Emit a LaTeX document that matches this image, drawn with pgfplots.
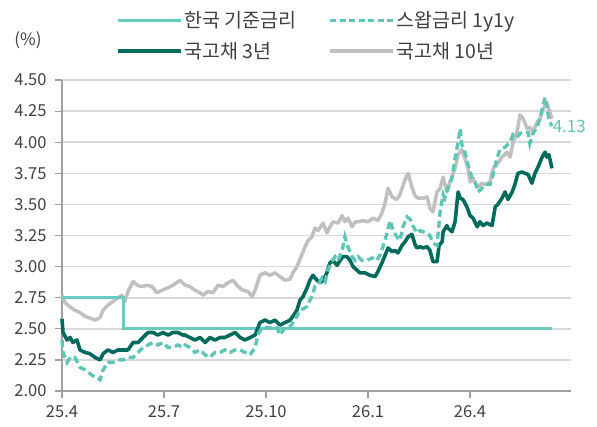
\documentclass[border=0pt]{standalone}
\usepackage{fontspec}
\setmainfont{Noto Sans CJK KR}
\usepackage{pgfplots}
\pgfplotsset{compat=1.18}
\definecolor{baseC}{RGB}{106,204,190}
\definecolor{swapC}{RGB}{95,197,182}
\definecolor{darkC}{RGB}{0,106,92}
\definecolor{grayC}{RGB}{192,192,192}
\definecolor{gridC}{RGB}{217,217,217}
\definecolor{axisC}{RGB}{160,160,160}
\definecolor{txtC}{RGB}{64,64,64}
\begin{document}
\begin{tikzpicture}[font=\fontsize{16.5}{19}\selectfont]
\begin{axis}[name=ax,
  scale only axis, width=509pt, height=311pt,
  xmin=0, xmax=14.97, ymin=2, ymax=4.5,
  axis x line*=bottom, axis y line*=left,
  axis line style={draw=axisC, line width=1.2pt},
  xtick={0,3,6,9,12}, xticklabels={25.4,25.7,25.10,26.1,26.4},
  ytick={2,2.25,...,4.5},
  /pgf/number format/assume math mode=true,
  tick label style={text=txtC, font=\fontsize{16.5}{19}\selectfont},
  xticklabel style={yshift=-4pt},
  yticklabel style={xshift=-5pt, /pgf/number format/.cd,fixed,fixed zerofill,precision=2},
  tick align=outside, major tick length=7pt,
  tick style={draw=axisC, line width=1.2pt},
  ymajorgrids, grid style={draw=gridC, line width=1.6pt},
  clip=false,
  legend columns=2,
  legend style={at={(0.5,1)}, anchor=south, yshift=16pt, draw=none, fill=none,
    text=txtC, font=\fontsize{19.5}{22}\selectfont,
    /tikz/every even column/.append style={column sep=30pt},
    row sep=9pt},
  legend cell align=left,
  legend image code/.code={\draw[#1] (0pt,0pt) -- (63pt,0pt);},
]
\addlegendimage{baseC, line width=3pt}
\addlegendentry{한국 기준금리}
\addlegendimage{swapC, line width=3pt, dash pattern=on 6pt off 3.5pt}
\addlegendentry{스왑금리 1y1y}
\addlegendimage{darkC, line width=3.2pt}
\addlegendentry{국고채 3년}
\addlegendimage{grayC, line width=3.2pt}
\addlegendentry{국고채 10년}

% 국고채 10년
\addplot[forget plot, draw=grayC, line width=3.5pt, line join=round] coordinates {
(0,2.77) (0.09,2.71) (0.24,2.675) (0.38,2.65) (0.53,2.63) (0.68,2.60) (0.88,2.58) (0.97,2.57)
(1.12,2.59) (1.21,2.65) (1.35,2.69) (1.50,2.72) (1.65,2.75) (1.76,2.77) (1.85,2.72) (1.94,2.80)
(2.09,2.88) (2.21,2.85) (2.35,2.84) (2.50,2.85) (2.65,2.84) (2.79,2.79) (2.94,2.81) (3.12,2.83)
(3.26,2.85) (3.47,2.89) (3.62,2.85) (3.76,2.84) (3.91,2.81) (4.06,2.79) (4.15,2.77) (4.29,2.80)
(4.44,2.79) (4.59,2.85) (4.74,2.84) (4.88,2.87) (5.03,2.89) (5.18,2.84) (5.32,2.81) (5.47,2.80)
(5.59,2.76) (5.68,2.81) (5.82,2.93) (5.97,2.95) (6.12,2.93) (6.26,2.95) (6.41,2.92) (6.56,2.89)
(6.71,2.90) (6.79,2.95) (6.91,3.00) (7.00,3.06) (7.15,3.16) (7.24,3.21) (7.35,3.24) (7.44,3.31)
(7.53,3.29) (7.68,3.35) (7.79,3.27) (7.88,3.32) (7.97,3.36) (8.12,3.35) (8.24,3.41) (8.32,3.36)
(8.41,3.39) (8.53,3.32) (8.62,3.36) (8.71,3.36) (8.85,3.37) (9.00,3.36) (9.15,3.39) (9.29,3.37)
(9.41,3.43) (9.50,3.51) (9.59,3.63) (9.71,3.56) (9.85,3.54) (9.94,3.58) (10.09,3.70) (10.18,3.75)
(10.29,3.64) (10.38,3.57) (10.47,3.55) (10.62,3.55) (10.74,3.56) (10.82,3.47) (10.91,3.44) (11.03,3.60)
(11.12,3.63) (11.21,3.72) (11.32,3.60) (11.41,3.68) (11.56,3.79) (11.65,3.90) (11.76,3.94) (11.85,3.87)
(11.94,3.79) (12.00,3.68) (12.09,3.71) (12.21,3.64) (12.35,3.67) (12.44,3.66) (12.59,3.68) (12.68,3.79)
(12.79,3.82) (12.94,3.88) (13.09,3.92) (13.18,3.88) (13.26,3.99) (13.38,4.08) (13.47,4.22) (13.56,4.19)
(13.68,4.11) (13.76,4.12) (13.85,4.08) (13.97,4.16) (14.06,4.19) (14.15,4.27) (14.26,4.31) (14.35,4.24)
(14.41,4.19)
};
% 한국 기준금리
\addplot[forget plot, draw=baseC, line width=3.2pt] coordinates {
(0,2.75) (1.82,2.75) (1.82,2.50) (14.41,2.50)
};
% 국고채 3년
\addplot[forget plot, draw=darkC, line width=3.6pt, line join=round] coordinates {
(0,2.58) (0.03,2.47) (0.15,2.41) (0.24,2.43) (0.32,2.39) (0.44,2.41) (0.53,2.33) (0.68,2.31)
(0.82,2.30) (0.97,2.27) (1.12,2.25) (1.21,2.30) (1.35,2.33) (1.50,2.31) (1.65,2.33) (1.79,2.33)
(1.94,2.33) (2.09,2.39) (2.24,2.39) (2.38,2.43) (2.53,2.47) (2.68,2.47) (2.82,2.45) (2.97,2.47)
(3.12,2.45) (3.26,2.47) (3.41,2.47) (3.56,2.45) (3.62,2.45) (3.76,2.43) (3.91,2.41) (4.06,2.43)
(4.21,2.39) (4.35,2.43) (4.50,2.41) (4.65,2.43) (4.79,2.43) (4.94,2.45) (5.09,2.47) (5.24,2.43)
(5.38,2.41) (5.53,2.43) (5.68,2.45) (5.82,2.55) (5.97,2.57) (6.12,2.55) (6.26,2.57) (6.41,2.53)
(6.56,2.55) (6.71,2.57) (6.79,2.60) (6.91,2.65) (7.00,2.73) (7.09,2.76) (7.21,2.83) (7.29,2.89)
(7.38,2.93) (7.50,2.89) (7.59,2.87) (7.68,2.89) (7.79,2.95) (7.88,3.03) (7.97,3.05) (8.09,3.01)
(8.18,3.05) (8.26,3.08) (8.38,3.08) (8.47,3.05) (8.56,3.00) (8.68,2.97) (8.76,2.95) (8.91,2.95)
(9.06,2.93) (9.21,2.92) (9.29,2.96) (9.41,3.03) (9.50,3.09) (9.59,3.15) (9.71,3.12) (9.79,3.13)
(9.88,3.11) (10.00,3.17) (10.09,3.20) (10.18,3.24) (10.29,3.26) (10.38,3.18) (10.44,3.15) (10.53,3.16)
(10.62,3.15) (10.74,3.16) (10.82,3.13) (10.91,3.04) (11.03,3.04) (11.09,3.17) (11.18,3.20) (11.21,3.28)
(11.32,3.33) (11.35,3.31) (11.47,3.28) (11.56,3.36) (11.65,3.60) (11.71,3.55) (11.79,3.54) (11.91,3.48)
(12.00,3.41) (12.09,3.39) (12.21,3.32) (12.29,3.36) (12.38,3.33) (12.50,3.35) (12.65,3.33) (12.74,3.48)
(12.82,3.50) (12.94,3.55) (13.03,3.60) (13.12,3.54) (13.24,3.60) (13.32,3.66) (13.41,3.75) (13.53,3.76)
(13.62,3.75) (13.71,3.74) (13.82,3.67) (13.91,3.75) (14.00,3.80) (14.12,3.88) (14.21,3.92) (14.26,3.88)
(14.32,3.90) (14.41,3.79)
};
% 스왑금리 1y1y
\addplot[forget plot, draw=swapC, line width=3.4pt, dash pattern=on 7pt off 4pt] coordinates {
(0,2.41) (0.03,2.31) (0.15,2.23) (0.24,2.27) (0.38,2.27) (0.53,2.19) (0.68,2.17) (0.82,2.14)
(0.97,2.11) (1.12,2.09) (1.21,2.17) (1.35,2.23) (1.50,2.23) (1.65,2.25) (1.79,2.25) (1.94,2.27)
(2.09,2.27) (2.24,2.31) (2.38,2.35) (2.53,2.37) (2.68,2.39) (2.82,2.37) (2.97,2.39) (3.12,2.35)
(3.26,2.35) (3.41,2.37) (3.56,2.35) (3.62,2.37) (3.76,2.35) (3.91,2.31) (4.06,2.33) (4.21,2.29)
(4.35,2.27) (4.50,2.31) (4.65,2.31) (4.79,2.33) (4.94,2.31) (5.09,2.33) (5.24,2.33) (5.38,2.31)
(5.53,2.29) (5.68,2.35) (5.76,2.45) (5.88,2.51) (6.03,2.51) (6.18,2.51) (6.32,2.51) (6.41,2.45)
(6.56,2.51) (6.71,2.52) (6.85,2.57) (7.00,2.65) (7.09,2.66) (7.21,2.68) (7.29,2.73) (7.35,2.76)
(7.44,2.84) (7.53,2.85) (7.65,2.91) (7.74,2.88) (7.82,2.97) (7.94,3.04) (8.03,3.08) (8.12,3.05)
(8.24,3.13) (8.32,3.24) (8.41,3.16) (8.53,3.08) (8.62,3.05) (8.71,3.08) (8.82,3.05) (8.97,3.05)
(9.12,3.07) (9.26,3.05) (9.35,3.09) (9.44,3.16) (9.56,3.27) (9.65,3.37) (9.74,3.29) (9.85,3.24)
(9.94,3.21) (10.03,3.32) (10.15,3.40) (10.24,3.38) (10.32,3.33) (10.44,3.27) (10.53,3.29) (10.62,3.28)
(10.74,3.27) (10.82,3.25) (10.91,3.19) (11.03,3.17) (11.12,3.44) (11.21,3.58) (11.26,3.55) (11.35,3.63)
(11.47,3.71) (11.56,3.87) (11.65,4.00) (11.71,4.11) (11.76,3.98) (11.85,3.92) (11.94,3.82) (12.06,3.71)
(12.15,3.68) (12.24,3.60) (12.35,3.63) (12.44,3.66) (12.59,3.66) (12.68,3.74) (12.79,3.87) (12.88,3.94)
(13.03,3.96) (13.18,4.00) (13.26,4.06) (13.38,4.04) (13.47,4.07) (13.56,4.08) (13.71,4.08) (13.76,3.99)
(13.85,4.07) (13.97,4.12) (14.06,4.19) (14.15,4.30) (14.21,4.36) (14.26,4.30) (14.32,4.18) (14.41,4.13)
};
\node[anchor=west, text=swapC, inner sep=2pt, font=\fontsize{17}{19}\selectfont] at (axis cs:14.37,4.13) {4.13};
\end{axis}
\node[text=txtC, font=\fontsize{17}{19}\selectfont] at ([xshift=-34pt,yshift=40pt]ax.north west) {(\%)};
\path ([xshift=-62pt,yshift=-35pt]ax.south west) rectangle ([xshift=26pt,yshift=80pt]ax.north east);
\end{tikzpicture}
\end{document}
